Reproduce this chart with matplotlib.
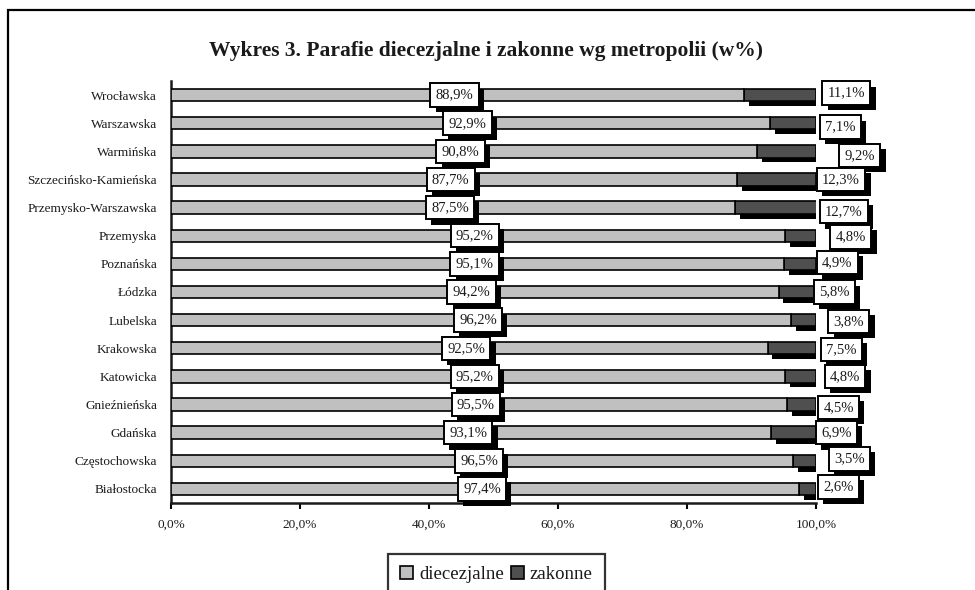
import matplotlib
matplotlib.use("Agg")
import matplotlib.pyplot as plt
import matplotlib.patheffects as pe
from matplotlib.patches import Rectangle, Patch
import numpy as np

plt.rcParams['font.family'] = ['Liberation Serif', 'DejaVu Serif']

categories = ["Wrocławska", "Warszawska", "Warmińska", "Szczecińsko-Kamieńska",
              "Przemysko-Warszawska", "Przemyska", "Poznańska", "Łódzka",
              "Lubelska", "Krakowska", "Katowicka", "Gnieźnieńska", "Gdańska",
              "Częstochowska", "Białostocka"]
diecezjalne = [88.9, 92.9, 90.8, 87.7, 87.5, 95.2, 95.1, 94.2, 96.2, 92.5,
               95.2, 95.5, 93.1, 96.5, 97.4]
zakonne = [11.1, 7.1, 9.2, 12.3, 12.7, 4.8, 4.9, 5.8, 3.8, 7.5, 4.8, 4.5,
           6.9, 3.5, 2.6]
xticks = [0, 20, 40, 60, 80, 100]
xtick_labels = ["0,0%", "20,0%", "40,0%", "60,0%", "80,0%", "100,0%"]
title = "Wykres 3. Parafie diecezjalne i zakonne wg metropolii (w%)"

# label layout (manually placed labels of the 'zakonne' series, as in the original)
zak_label_x = [104.7, 103.8, 106.8, 103.9, 104.3, 105.4, 103.3, 102.9, 105.1,
               103.9, 104.5, 103.5, 103.2, 105.2, 103.5]
zak_label_dy = [-0.07, 0.14, 0.14, 0.0, 0.14, 0.04, -0.04, 0.0, 0.04, 0.04,
                0.0, 0.1, 0.0, -0.07, -0.07]

GRAY = "#c0c0c0"
DARK = "#4f4f4f"
TXT = "#1a1a1a"

fig = plt.figure(figsize=(9.75, 5.9), dpi=100)
ax = fig.add_axes([171/975, 1-503/590, (816-171)/975, (503-81)/590])

y = np.arange(len(categories))
h = 0.44
shadow = [pe.SimplePatchShadow(offset=(3.5, -3.5), shadow_rgbFace='black', alpha=1.0),
          pe.Normal()]

ax.barh(y, diecezjalne, height=h, color=GRAY, edgecolor='black', linewidth=1.2,
        zorder=3)
bz = ax.barh(y, zakonne, left=diecezjalne, height=h, color=DARK,
             edgecolor='black', linewidth=1.2, zorder=2)
for b in bz:
    b.set_path_effects(shadow)

ax.set_ylim(len(categories) - 0.5, -0.5)
ax.set_xlim(0, 100)

box = dict(boxstyle='square,pad=0.36', facecolor='white', edgecolor='black',
           linewidth=1.4)
LFS = 10.5

for i in range(len(categories)):
    t = ax.text(diecezjalne[i] / 2 - 0.5, y[i], f"{diecezjalne[i]:.1f}%".replace('.', ','),
                ha='center', va='center', fontsize=LFS, color=TXT,
                bbox=box, zorder=10 + i, clip_on=False)
    t.get_bbox_patch().set_path_effects(
        [pe.SimplePatchShadow(offset=(3.8, -3.8), shadow_rgbFace='black', alpha=1.0),
         pe.Normal()])
for i in range(len(categories)):
    t = ax.text(zak_label_x[i], y[i] + zak_label_dy[i],
                f"{zakonne[i]:.1f}%".replace('.', ','),
                ha='center', va='center', fontsize=LFS, color=TXT,
                bbox=box, zorder=30 + i, clip_on=False)
    t.get_bbox_patch().set_path_effects(
        [pe.SimplePatchShadow(offset=(3.8, -3.8), shadow_rgbFace='black', alpha=1.0),
         pe.Normal()])

ax.set_yticks(y)
ax.set_yticklabels(categories, fontsize=9.5, color=TXT)
ax.tick_params(axis='y', length=0, pad=10)
ax.set_xticks(xticks)
ax.set_xticklabels(xtick_labels, fontsize=9.5, color=TXT)
ax.tick_params(axis='x', direction='out', length=4, width=1.5, pad=7)

for s in ['top', 'right']:
    ax.spines[s].set_visible(False)
for s in ['left', 'bottom']:
    ax.spines[s].set_linewidth(1.8)
    ax.spines[s].set_color('#1a1a1a')
ax.set_facecolor('none')

fig.text(486/975, 1-51/590, title, ha='center', va='center', fontsize=15.5,
         fontweight='bold', color=TXT)

# outer frame
fig.patches.append(Rectangle((8/975, -0.2), 1.2, 1.2 - 10/590,
                             transform=fig.transFigure, fill=False,
                             edgecolor='black', linewidth=1.6))

handles = [Patch(facecolor=GRAY, edgecolor='black', linewidth=1.2, label='diecezjalne'),
           Patch(facecolor=DARK, edgecolor='black', linewidth=1.2, label='zakonne')]
leg = fig.legend(handles=handles, loc='upper center',
                 bbox_to_anchor=(496.5/975, 1-554/590), ncol=2, fontsize=13.5,
                 frameon=True, fancybox=False, edgecolor='black',
                 handlelength=0.7, handleheight=0.7, handletextpad=0.3,
                 columnspacing=0.4, borderpad=0.65, borderaxespad=0)
leg.get_frame().set_linewidth(1.6)
for t in leg.get_texts():
    t.set_color(TXT)

fig.savefig("out.png", dpi=100)
